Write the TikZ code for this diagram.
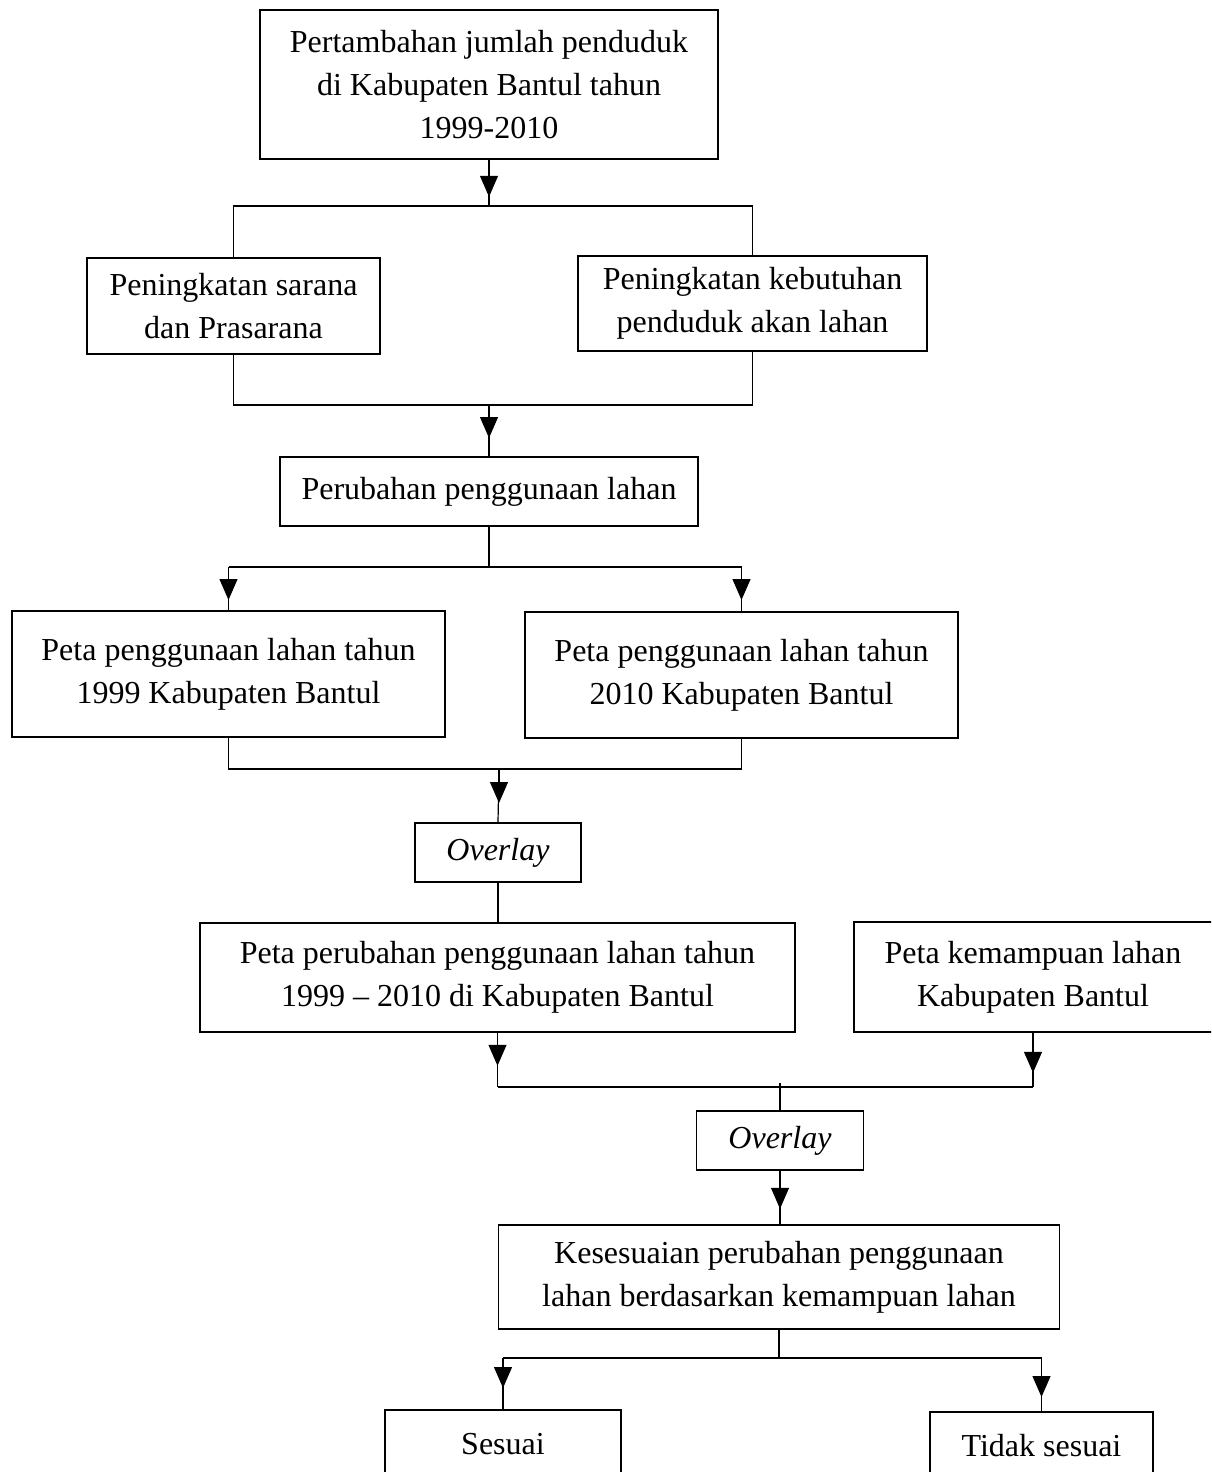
\documentclass[tikz,border=0pt]{standalone}
\usepackage{fontspec}
\setmainfont{Liberation Serif}
\usetikzlibrary{arrows.meta}

\tikzset{
    kotak/.style={draw, line width=0.8pt, align=center, inner sep=2pt,
        font=\fontsize{16pt}{21.3pt}\selectfont},
    garis/.style={line width=0.6pt},
    panah/.style={garis, -{Triangle[length=10.5pt,width=9pt]}}
}

\begin{document}
\begin{tikzpicture}[x=0.5pt,y=-0.5pt]
        \useasboundingbox (0,0) rectangle (1211,1472);
        \clip (0,0) rectangle (1211,1472);

        \node[kotak, minimum width=229pt, minimum height=74.5pt] (awal) at (489,84.5) {Pertambahan jumlah penduduk\\di Kabupaten Bantul tahun\\1999-2010};
        \node[kotak, minimum width=146.5pt, minimum height=48pt] (sarana) at (233.5,306) {Peningkatan sarana\\dan Prasarana};
        \node[kotak, minimum width=174.5pt, minimum height=47.5pt] (kebutuhan) at (752.5,303.5) {Peningkatan kebutuhan\\penduduk akan lahan};
        \node[kotak, minimum width=209pt, minimum height=34.5pt] (perubahan) at (489,491.5) {Perubahan penggunaan lahan};

        \node[kotak, minimum width=216.5pt, minimum height=63pt] (peta1999) at (228.5,674) {Peta penggunaan lahan tahun\\1999 Kabupaten Bantul};
        \node[kotak, minimum width=216.5pt, minimum height=63pt] (peta2010) at (741.5,675) {Peta penggunaan lahan tahun\\2010 Kabupaten Bantul};
        \node[kotak, minimum width=83pt, minimum height=29.5pt] (overlay1) at (498,852.5) {\textit{Overlay}};

        \node[kotak, minimum width=297.5pt, minimum height=54.5pt] (petaubah) at (497.5,977.5) {Peta perubahan penggunaan lahan tahun\\1999 -- 2010 di Kabupaten Bantul};
        % kotak ini terpotong di tepi kanan
        \node[kotak, draw=none, minimum width=178pt, minimum height=54pt] (kemampuan) at (1033,977) {Peta kemampuan lahan\\Kabupaten Bantul};
        \draw[line width=0.8pt] ([xshift=20pt]kemampuan.north east) -- (kemampuan.north west) -- (kemampuan.south west) -- ([xshift=20pt]kemampuan.south east);
        \node[kotak, minimum width=83.5pt, minimum height=29.5pt] (overlay2) at (780,1140.5) {\textit{Overlay}};
        \node[kotak, minimum width=280.5pt, minimum height=52pt] (kesesuaian) at (779,1277) {Kesesuaian perubahan penggunaan\\lahan berdasarkan kemampuan lahan};

        \node[kotak, minimum width=118pt, minimum height=34pt] (sesuai) at (503,1444) {Sesuai};
        \node[kotak, minimum width=111.5pt, minimum height=34pt] (tidak) at (1041.5,1446) {Tidak sesuai};

        \coordinate (c1) at (489,206);
        \draw[garis] (awal.south) -- (c1);
        \draw[panah] (awal.south) -- ++(0,37);
        \draw[garis] (sarana.north) -- (sarana.north |- c1) -- (kebutuhan.north |- c1) -- (kebutuhan.north);

        \coordinate (c2) at (489,405);
        \draw[garis] (sarana.south) -- (sarana.south |- c2) -- (kebutuhan.south |- c2) -- (kebutuhan.south);
        \draw[garis] (c2) -- (perubahan.north);
        \draw[panah] (c2) -- ++(0,33);

        \coordinate (c3) at (489,567);
        \draw[garis] (perubahan.south) -- (c3);
        \draw[garis] (peta1999.north |- c3) -- (peta2010.north |- c3);
        \draw[garis] (peta1999.north |- c3) -- (peta1999.north);
        \draw[garis] (peta2010.north |- c3) -- (peta2010.north);
        \draw[panah] (peta1999.north |- c3) -- ++(0,33);
        \draw[panah] (peta2010.north |- c3) -- ++(0,33);

        \coordinate (c4) at (499,769);
        \draw[garis] (peta1999.south) -- (peta1999.south |- c4) -- (peta2010.south |- c4) -- (peta2010.south);
        \draw[garis] (c4) -- (overlay1.north);
        \draw[panah] (c4) -- ++(0,34);

        \draw[garis] (overlay1.south) -- (overlay1.south |- petaubah.north);

        \coordinate (c5) at (780,1087);
        \draw[garis] (petaubah.south) -- (petaubah.south |- c5);
        \draw[panah] (petaubah.south) -- ++(0,33);
        \draw[garis] (kemampuan.south) -- (kemampuan.south |- c5);
        \draw[panah] (kemampuan.south) -- ++(0,41);
        \draw[garis] (petaubah.south |- c5) -- (kemampuan.south |- c5);
        \draw[garis] ([yshift=2pt]c5) -- (overlay2.north);

        \draw[garis] (overlay2.south) -- (overlay2.south |- kesesuaian.north);
        \draw[panah] (overlay2.south) -- ++(0,38);

        \coordinate (c6) at (779,1358);
        \draw[garis] (kesesuaian.south) -- (c6);
        \draw[garis] (sesuai.north |- c6) -- (tidak.north |- c6);
        \draw[garis] (sesuai.north |- c6) -- (sesuai.north);
        \draw[garis] (tidak.north |- c6) -- (tidak.north);
        \draw[panah] (sesuai.north |- c6) -- ++(0,30);
        \draw[panah] (tidak.north |- c6) -- ++(0,39);
    \end{tikzpicture}
\end{document}
